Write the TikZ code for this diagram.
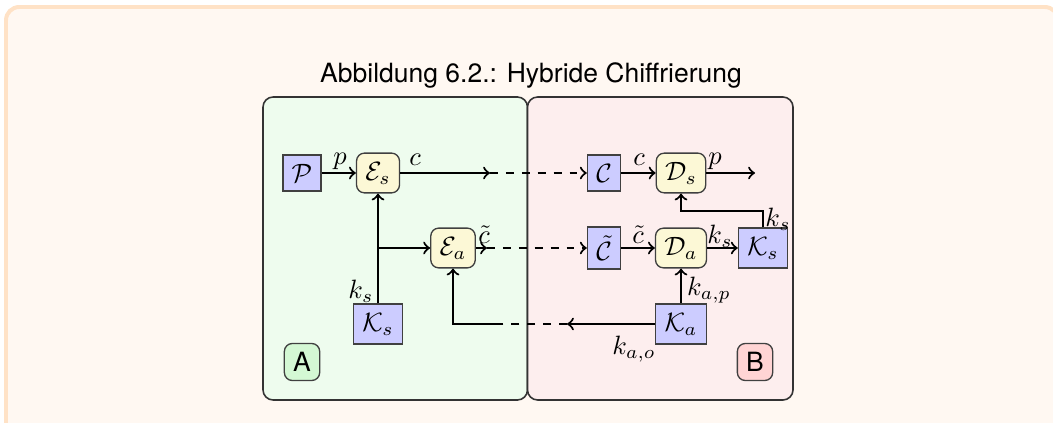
\documentclass[tikz,border=0pt]{standalone}
\usepackage{fontspec}
\setsansfont{TeX Gyre Heros}
\usetikzlibrary{arrows}
\definecolor{framefill}{RGB}{255,248,242}
\definecolor{framedraw}{RGB}{255,226,198}
\definecolor{algfill}{RGB}{252,248,214}
\definecolor{senderfill}{RGB}{238,252,238}
\definecolor{receiverfill}{RGB}{253,238,238}
\definecolor{sendertag}{RGB}{212,248,212}
\definecolor{receivertag}{RGB}{255,212,212}
\definecolor{keyfill}{RGB}{204,204,255}
\begin{document}
\begin{tikzpicture}[x=0.3774pt,y=-0.3774pt,
  keybox/.style={draw=black!75, fill=keyfill, line width=0.5pt},
  algobox/.style={draw=black!75, fill=algfill, rounded corners=3pt, line width=0.5pt},
  party/.style={draw=black!80, rounded corners=3.8pt, line width=0.6pt},
  tag/.style={draw=black!75, rounded corners=3pt, font=\sffamily, line width=0.5pt},
  flow/.style={->, thick},
  link/.style={->, thick, dashed},
  channel/.style={thick, dashed},
  lbl/.style={inner sep=0pt}]
% page frame
\useasboundingbox (0,0) rectangle (1053,423);
\begin{scope}
  \clip (0,0) rectangle (1053,423);
  \draw[draw=framedraw, fill=framefill, line width=1.5pt, rounded corners=5pt]
    (6,7) rectangle (1058,480);
\end{scope}

\node[font=\sffamily] (title) at (531,75) {Abbildung 6.2.: Hybride Chiffrierung};

% the two parties
\draw[party, fill=senderfill] (263,97) rectangle (527.5,400);
\draw[party, fill=receiverfill] (527.5,97) rectangle (793,400);

% sender A
\node[keybox] (P) at (302,173) {$\mathcal{P}$};
\node[algobox] (Es) at (378,173) {$\mathcal{E}_s$};
\node[algobox] (Ea) at (453,248) {$\mathcal{E}_a$};
\node[keybox] (KsA) at (378,324) {$\mathcal{K}_s$};
\node[tag, fill=sendertag] (A) at (302,362) {A};

% receiver B
\node[keybox] (C) at (604,173) {$\mathcal{C}$};
\node[keybox] (Ct) at (604,248) {$\tilde{\mathcal{C}}$};
\node[algobox] (Ds) at (681,173) {$\mathcal{D}_s$};
\node[algobox] (Da) at (681,248) {$\mathcal{D}_a$};
\node[keybox] (KsB) at (763,248) {$\mathcal{K}_s$};
\node[keybox] (Ka) at (681,324) {$\mathcal{K}_a$};
\node[tag, fill=receivertag] (B) at (755,362) {B};

% helper points
\coordinate (cOut) at (490,173);
\coordinate (ctOut) at (487,248);
\coordinate (split) at (378,248);
\coordinate (kaOut) at (567,324);
\coordinate (kaIn) at (495,324);
\coordinate (pOut) at (755,173);
\coordinate (ksTurn) at (681,211);

% sender flows
\draw[flow] (P) -- (Es);
\draw[flow] (Es) -- (cOut);
\draw[link] (cOut) -- (C);
\draw[flow] (KsA) -- (Es);
\draw[flow] (split) -- (Ea);
\draw[flow] (Ea) -- (ctOut);
\draw[link] (ctOut) -- (Ct);

% receiver flows
\draw[flow] (C) -- (Ds);
\draw[flow] (Ds) -- (pOut);
\draw[flow] (Ct) -- (Da);
\draw[flow] (Da) -- (KsB);
\draw[flow] (KsB) |- (ksTurn) -- (Ds);
\draw[flow] (Ka) -- (Da);
\draw[flow] (Ka) -- (kaOut);
\draw[channel] (kaOut) -- (kaIn);
\draw[flow] (kaIn) -| (Ea);

% labels
\node[lbl] (lp1) at (340,161) {$p$};
\node[lbl] (lc1) at (415,160) {$c$};
\node[lbl] (lks1) at (361,291) {$k_s$};
\node[lbl] (lct1) at (484,235) {$\tilde{c}$};
\node[lbl] (lc2) at (639,160) {$c$};
\node[lbl] (lp2) at (715,161) {$p$};
\node[lbl] (lct2) at (638,235) {$\tilde{c}$};
\node[lbl] (lks2) at (720,236) {$k_s$};
\node[lbl] (lks3) at (778,219) {$k_s$};
\node[lbl] (lkap) at (709,290) {$k_{a,p}$};
\node[lbl] (lkao) at (634,349) {$k_{a,o}$};
\end{tikzpicture}
\end{document}
